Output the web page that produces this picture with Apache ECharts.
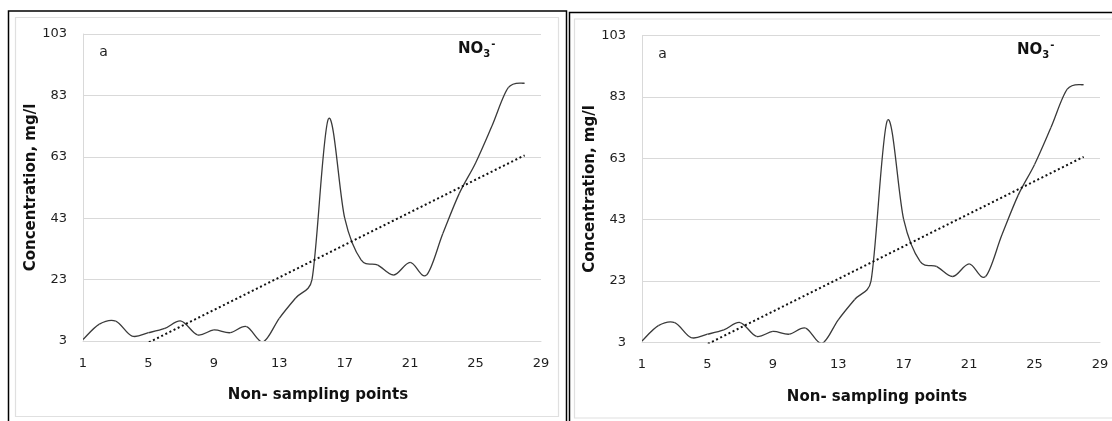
<!DOCTYPE html>
<html>
<head>
<meta charset="utf-8">
<script src="https://cdn.jsdelivr.net/npm/echarts@6/dist/echarts.min.js"></script>
<style>
  html, body { margin: 0; padding: 0; background: #ffffff; }
  #chart { width: 1112px; height: 421px; }
</style>
</head>
<body>
<div id="chart"></div>
<script>
// Non-sampling point numbers along the profile
const pointIds = [1, 2, 3, 4, 5, 6, 7, 8, 9, 10, 11, 12, 13, 14,
                  15, 16, 17, 18, 19, 20, 21, 22, 23, 24, 25, 26, 27, 28];
// Nitrate (NO3-) concentration at each point, mg/l
const nitrate = [3.5, 8.5, 9.5, 4.6, 5.7, 7.1, 9.5, 5.0, 6.6, 5.7, 7.7, 2.7, 10.4, 17.0,
                 23.0, 75.3, 43.0, 29.4, 27.8, 24.5, 28.6, 24.5, 38.0, 51.0, 61.0, 73.0, 85.5, 87.0];
// Axis tick values
const xTickValues = [1, 5, 9, 13, 17, 21, 25, 29];
const yTickValues = [3, 23, 43, 63, 83, 103];

const xTitle = 'Non- sampling points';
const yTitle = 'Concentration, mg/l';
const panelLetter = 'a';

// Ordinary least-squares line through the measurements
function linearFit(xs, ys) {
  const n = xs.length;
  const mx = xs.reduce((s, v) => s + v, 0) / n;
  const my = ys.reduce((s, v) => s + v, 0) / n;
  let sxy = 0, sxx = 0;
  for (let i = 0; i < n; i++) {
    sxy += (xs[i] - mx) * (ys[i] - my);
    sxx += (xs[i] - mx) * (xs[i] - mx);
  }
  const slope = sxy / sxx;
  return { slope, intercept: my - slope * mx };
}
const fit = linearFit(pointIds, nitrate);
const trendData = [pointIds[0], pointIds[pointIds.length - 1]]
  .map(x => [x, fit.intercept + fit.slope * x]);
const seriesData = pointIds.map((x, i) => [x, nitrate[i]]);

// Smoothed curve: each data item draws the cubic Bezier segment to the next
// point. Control points follow the neighbours (tension 1/6), but a control
// arm never reaches further than half of its own segment.
function smoothSegment(params, api) {
  const k = params.dataIndex;
  const last = seriesData.length - 1;
  if (k >= last) return null;
  const at = j => api.coord(seriesData[Math.max(0, Math.min(last, j))]);
  const p0 = at(k - 1), p1 = at(k), p2 = at(k + 1), p3 = at(k + 2);
  const dist = (a, b) => Math.hypot(b[0] - a[0], b[1] - a[1]);
  const d12 = dist(p1, p2), d02 = dist(p0, p2), d13 = dist(p1, p3);
  const f1 = d02 > 0 ? Math.min(1 / 6, d12 / (2 * d02)) : 0;
  const f2 = d13 > 0 ? Math.min(1 / 6, d12 / (2 * d13)) : 0;
  return {
    type: 'bezierCurve',
    shape: {
      x1: p1[0], y1: p1[1],
      x2: p2[0], y2: p2[1],
      cpx1: p1[0] + (p2[0] - p0[0]) * f1, cpy1: p1[1] + (p2[1] - p0[1]) * f1,
      cpx2: p2[0] - (p3[0] - p1[0]) * f2, cpy2: p2[1] - (p3[1] - p1[1]) * f2
    },
    style: { stroke: '#3a3a3a', lineWidth: 1.3, fill: 'none' }
  };
}

// The figure shows the same panel twice, side by side
const panels = [
  { dx: 0,   dy: 0,   frameX: 8.5,   frameW: 558 },
  { dx: 559, dy: 1.5, frameX: 569.5, frameW: 600 }
];

const font = 'DejaVu Sans';
const gridColor = '#d9d9d9';

const grids = [], xAxes = [], yAxes = [], series = [], graphics = [];

panels.forEach((p, i) => {
  grids.push({ left: 83 + p.dx, top: 34 + p.dy, width: 458, height: 307 });

  xAxes.push({
    type: 'value', gridIndex: i,
    min: xTickValues[0], max: xTickValues[xTickValues.length - 1],
    interval: xTickValues[1] - xTickValues[0],
    axisLine: { show: true, onZero: false, lineStyle: { color: gridColor, width: 1 } },
    axisTick: { show: false },
    splitLine: { show: false },
    axisLabel: { fontFamily: font, fontSize: 13, color: '#1e1e1e', margin: 16 },
    name: xTitle, nameLocation: 'middle', nameGap: 47,
    nameTextStyle: { fontFamily: font, fontWeight: 'bold', fontSize: 15, color: '#111', padding: [0, 0, 0, 12] }
  });

  yAxes.push({
    type: 'value', gridIndex: i,
    min: yTickValues[0], max: yTickValues[yTickValues.length - 1],
    interval: yTickValues[1] - yTickValues[0],
    axisLine: { show: true, lineStyle: { color: gridColor, width: 1 } },
    axisTick: { show: false },
    splitLine: { show: true, lineStyle: { color: gridColor, width: 1 } },
    axisLabel: { fontFamily: font, fontSize: 13, color: '#1e1e1e', margin: 16 },
    name: yTitle, nameLocation: 'middle', nameGap: 44,
    nameTextStyle: { fontFamily: font, fontWeight: 'bold', fontSize: 15, color: '#111' }
  });

  series.push({
    type: 'custom', xAxisIndex: i, yAxisIndex: i,
    data: seriesData, silent: true, clip: true,
    renderItem: smoothSegment
  });
  series.push({
    type: 'line', xAxisIndex: i, yAxisIndex: i,
    data: trendData, showSymbol: false, silent: true, clip: true,
    lineStyle: { color: '#111', width: 2, type: [2, 2.6] }
  });

  // panel frames
  graphics.push({
    type: 'rect', silent: true,
    shape: { x: p.frameX, y: 11 + p.dy, width: p.frameW, height: 440 },
    style: { fill: 'none', stroke: '#000', lineWidth: 1.5 }
  });
  graphics.push({
    type: 'rect', silent: true,
    shape: { x: 15.5 + p.dx, y: 17.5 + p.dy, width: 543, height: 399 },
    style: { fill: 'none', stroke: '#e0e0e0', lineWidth: 1.2 }
  });
  // panel letter
  graphics.push({
    type: 'text', silent: true, x: 103.5 + p.dx, y: 52.5 + p.dy,
    style: { text: panelLetter, fontFamily: font, fontSize: 14, fill: '#1e1e1e',
             align: 'center', verticalAlign: 'middle' }
  });
  // ion label NO3-
  graphics.push({
    type: 'text', silent: true, x: 458 + p.dx, y: 49 + p.dy,
    style: {
      text: '{n|NO}{s|3}{p|-}', align: 'left', verticalAlign: 'middle',
      rich: {
        n: { fontFamily: font, fontWeight: 'bold', fontSize: 15, fill: '#111' },
        s: { fontFamily: font, fontWeight: 'bold', fontSize: 10, fill: '#111', padding: [10, 0, 0, 0] },
        p: { fontFamily: font, fontWeight: 'bold', fontSize: 10, fill: '#111', padding: [0, 0, 10, 1] }
      }
    }
  });
});

const chart = echarts.init(document.getElementById('chart'), null, { renderer: 'canvas' });
chart.setOption({
  animation: false,
  backgroundColor: '#ffffff',
  grid: grids,
  xAxis: xAxes,
  yAxis: yAxes,
  series: series,
  graphic: graphics
});
</script>
</body>
</html>
